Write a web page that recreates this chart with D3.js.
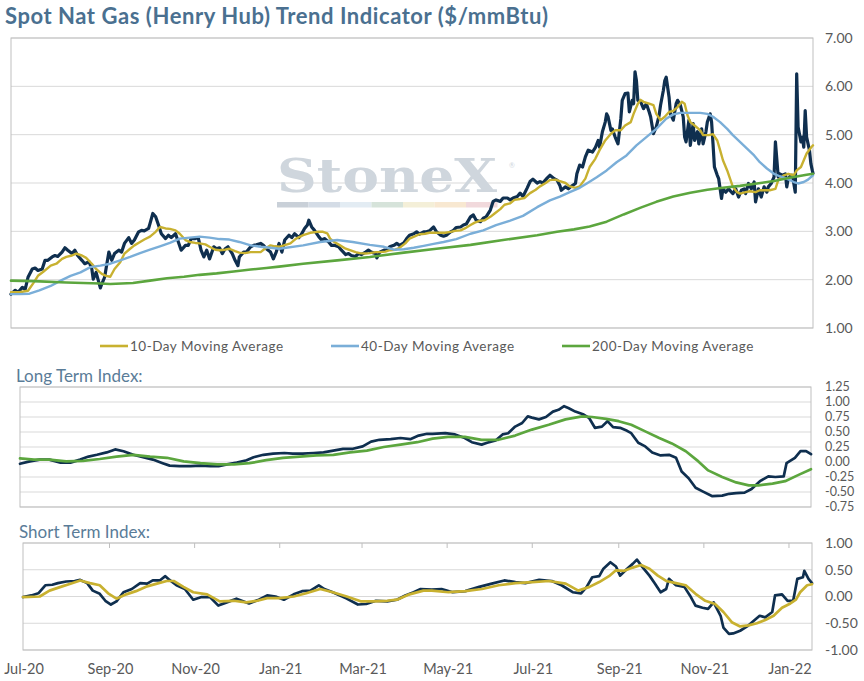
<!DOCTYPE html>
<html>
<head>
<meta charset="utf-8">
<script src="https://cdn.jsdelivr.net/npm/d3@7"></script>
<style>
  body { margin: 0; background: #fff; }
  text { font-family: Lato, "Noto Sans", sans-serif; }
</style>
</head>
<body>
<svg id="chart" width="864" height="681"></svg>
<script>
// every series is [days since 1 Jul 2020, value]
const START = Date.UTC(2020, 6, 1);
const END_DAY = 565.5;

const spot = [
  [0,1.70],[3,1.78],[5,1.74],[8,1.84],[10,1.80],[12,2.05],[15,2.22],[17,2.24],[19,2.19],[22,2.22],
  [24,2.40],[26,2.40],[29,2.47],[31,2.50],[33,2.48],[36,2.57],[38,2.66],[40,2.61],[43,2.54],[45,2.61],
  [47,2.50],[50,2.40],[52,2.33],[55,2.37],[57,2.22],[58,2.01],[60,2.15],[63,1.83],[64,1.91],[66,2.05],
  [69,2.57],[71,2.40],[73,2.54],[76,2.61],[78,2.57],[80,2.75],[83,2.87],[85,2.75],[87,2.82],[90,2.99],
  [92,3.02],[94,3.01],[97,3.06],[98,3.16],[100,3.37],[102,3.30],[104,3.13],[106,2.95],[109,2.85],[111,2.92],
  [113,2.87],[116,2.95],[118,2.78],[120,2.61],[123,2.71],[125,2.71],[127,2.85],[130,2.85],[132,2.87],[134,2.61],
  [136,2.47],[138,2.61],[140,2.43],[143,2.68],[145,2.64],[147,2.66],[149,2.54],[151,2.64],[153,2.68],[156,2.54],
  [158,2.40],[160,2.29],[161,2.47],[164,2.57],[166,2.57],[169,2.68],[171,2.71],[173,2.72],[176,2.75],[178,2.71],
  [180,2.64],[183,2.57],[185,2.43],[187,2.57],[189,2.75],[191,2.57],[193,2.82],[196,2.92],[198,2.87],[200,2.95],
  [203,2.87],[205,2.95],[207,3.06],[209,3.13],[210,3.23],[212,3.09],[214,3.02],[217,2.89],[219,2.82],[221,2.85],
  [224,2.78],[226,2.71],[228,2.71],[231,2.68],[233,2.61],[236,2.52],[238,2.54],[240,2.50],[243,2.48],[245,2.54],
  [247,2.52],[250,2.57],[252,2.61],[254,2.57],[257,2.54],[258,2.45],[260,2.57],[263,2.61],[265,2.61],[267,2.68],
  [270,2.71],[272,2.75],[274,2.71],[277,2.76],[279,2.85],[281,2.92],[284,2.95],[286,2.99],[288,2.94],[291,2.99],
  [293,2.99],[295,3.01],[298,3.09],[300,2.99],[303,2.92],[305,2.90],[307,2.92],[310,2.99],[312,3.02],[314,3.08],
  [317,3.09],[319,3.13],[321,3.15],[324,3.30],[326,3.34],[328,3.23],[331,3.20],[333,3.27],[335,3.30],[338,3.44],
  [340,3.62],[342,3.65],[345,3.62],[347,3.69],[350,3.69],[352,3.65],[354,3.69],[357,3.72],[359,3.79],[361,3.72],
  [364,3.90],[366,4.03],[368,4.08],[371,4.00],[373,4.03],[375,4.00],[378,4.10],[380,4.16],[383,4.09],[385,4.06],
  [387,3.95],[388,3.85],[391,3.92],[393,3.88],[395,3.93],[398,3.99],[399,4.19],[401,4.37],[403,4.33],[405,4.54],
  [407,4.68],[410,4.64],[412,4.73],[414,4.88],[415,4.74],[417,5.06],[419,5.26],[420,5.43],[421,5.37],[423,5.09],
  [424,5.12],[426,4.95],[428,4.81],[430,5.33],[431,5.71],[433,5.85],[435,5.86],[436,5.47],[438,5.71],[439,5.64],
  [440,6.30],[441,6.12],[442,5.71],[444,5.68],[446,5.54],[448,5.64],[450,5.47],[451,5.37],[453,5.02],[455,5.16],
  [457,5.40],[458,5.61],[460,5.92],[461,6.12],[462,6.19],[464,5.78],[465,5.43],[467,5.30],[469,5.64],[470,5.71],
  [472,5.61],[474,5.37],[475,4.95],[476,4.85],[478,5.30],[479,4.78],[481,5.23],[482,4.88],[484,5.06],[485,4.81],
  [487,5.12],[488,4.81],[490,5.06],[491,5.26],[493,5.43],[494,5.26],[495,4.81],[496,4.33],[498,4.16],[499,4.09],
  [501,3.68],[502,3.88],[504,3.81],[506,3.88],[508,3.81],[509,3.78],[511,3.88],[513,3.71],[515,3.85],[517,3.88],
  [518,3.78],[520,3.99],[522,3.88],[524,4.02],[525,3.61],[527,3.88],[529,3.71],[531,3.92],[533,3.81],[534,3.92],
  [536,3.99],[538,4.12],[539,4.85],[541,4.12],[542,4.19],[544,4.16],[546,4.19],[547,3.92],[548,4.09],[550,4.16],
  [551,4.16],[553,3.81],[554,6.26],[555,5.16],[557,4.85],[558,4.95],[559,4.74],[560,5.50],[561,4.95],[563,4.68],
  [564,4.40],[565,4.26],[565.5,4.20]
];

const ma10 = [
  [0,1.74],[6,1.74],[12,1.77],[16,1.94],[19,2.08],[23,2.17],[28,2.29],[32,2.33],[36,2.43],[39,2.47],
  [43,2.50],[46,2.54],[50,2.50],[53,2.45],[57,2.33],[60,2.22],[64,2.12],[67,2.08],[70,2.06],[73,2.22],
  [77,2.36],[80,2.54],[84,2.64],[87,2.71],[91,2.78],[94,2.83],[98,2.89],[102,2.99],[105,3.09],[109,3.06],
  [112,3.05],[116,3.02],[119,2.95],[123,2.82],[126,2.78],[130,2.76],[133,2.75],[137,2.73],[140,2.68],[144,2.62],
  [147,2.61],[151,2.62],[154,2.64],[158,2.59],[161,2.56],[165,2.55],[169,2.57],[172,2.57],[176,2.57],[179,2.64],
  [183,2.71],[186,2.69],[189,2.68],[197,2.75],[201,2.85],[206,2.92],[211,2.97],[216,2.99],[220,2.99],[223,2.96],
  [225,2.85],[228,2.78],[232,2.71],[236,2.64],[239,2.61],[243,2.57],[246,2.55],[250,2.54],[253,2.55],[257,2.57],
  [260,2.57],[264,2.58],[267,2.61],[271,2.62],[274,2.66],[278,2.75],[281,2.85],[285,2.90],[288,2.94],[292,2.95],
  [295,2.97],[299,2.97],[303,2.97],[306,2.97],[310,2.99],[313,3.01],[317,3.02],[320,3.06],[324,3.13],[327,3.18],
  [331,3.22],[334,3.23],[338,3.30],[341,3.37],[345,3.46],[348,3.55],[352,3.58],[355,3.65],[359,3.67],[362,3.69],
  [366,3.79],[370,3.86],[373,3.93],[377,4.00],[380,4.06],[384,4.07],[387,4.04],[391,4.00],[394,3.93],[398,3.90],
  [401,3.93],[405,4.09],[408,4.33],[412,4.50],[415,4.68],[419,4.88],[423,5.02],[426,5.09],[430,5.09],[433,5.19],
  [437,5.26],[439,5.43],[442,5.64],[444,5.72],[446,5.68],[450,5.64],[453,5.61],[455,5.43],[458,5.30],[461,5.37],
  [464,5.47],[467,5.49],[470,5.57],[473,5.68],[475,5.64],[477,5.40],[479,5.26],[482,5.19],[486,5.09],[488,4.99],
  [492,4.99],[495,5.01],[498,4.88],[500,4.68],[502,4.47],[505,4.26],[507,4.09],[509,3.92],[512,3.81],[514,3.78],
  [518,3.81],[521,3.83],[525,3.81],[528,3.85],[532,3.85],[535,3.85],[539,3.88],[541,4.06],[545,4.16],[548,4.19],
  [552,4.16],[554,4.26],[557,4.33],[559,4.47],[561,4.61],[564,4.73],[565.5,4.78]
];

const ma40 = [
  [0,1.70],[6,1.70],[13,1.71],[20,1.78],[28,1.87],[35,1.98],[42,2.08],[49,2.15],[56,2.26],[63,2.29],
  [70,2.33],[77,2.40],[84,2.47],[91,2.55],[98,2.62],[105,2.69],[112,2.76],[119,2.85],[126,2.87],[133,2.89],
  [140,2.87],[147,2.84],[154,2.83],[161,2.78],[169,2.71],[176,2.68],[183,2.66],[189,2.64],[206,2.71],[218,2.78],
  [230,2.82],[241,2.78],[253,2.72],[263,2.68],[270,2.62],[277,2.63],[284,2.66],[291,2.70],[298,2.74],[305,2.78],
  [314,2.84],[324,2.95],[333,3.02],[342,3.13],[352,3.22],[361,3.32],[371,3.50],[380,3.64],[387,3.72],[394,3.81],
  [401,3.90],[406,3.99],[413,4.12],[420,4.26],[427,4.43],[434,4.57],[441,4.78],[448,4.95],[455,5.12],[462,5.33],
  [467,5.42],[472,5.45],[479,5.45],[486,5.45],[491,5.43],[495,5.37],[500,5.26],[505,5.12],[509,4.99],[514,4.85],
  [519,4.71],[524,4.57],[528,4.43],[533,4.30],[538,4.19],[542,4.14],[547,4.09],[552,4.02],[555,3.99],[559,4.02],
  [562,4.07],[565.5,4.16]
];

const ma200 = [
  [0,1.98],[16,1.97],[39,1.94],[63,1.92],[70,1.91],[86,1.93],[98,1.98],[110,2.03],[122,2.06],[133,2.10],
  [145,2.13],[157,2.17],[169,2.21],[180,2.24],[189,2.27],[206,2.33],[230,2.40],[253,2.47],[277,2.56],[300,2.64],
  [324,2.72],[347,2.82],[371,2.92],[385,2.99],[397,3.04],[408,3.10],[420,3.20],[432,3.35],[444,3.49],[455,3.61],
  [467,3.72],[479,3.80],[491,3.86],[502,3.90],[514,3.94],[526,3.99],[538,4.04],[549,4.11],[561,4.17],[565.5,4.19]
];

const longIndex = [
  [0,-0.03],[7,0.01],[14,0.04],[21,0.04],[29,-0.01],[36,-0.01],[43,0.04],[49,0.09],[55,0.12],[62,0.16],
  [68,0.21],[74,0.18],[81,0.12],[88,0.08],[95,0.04],[102,-0.02],[107,-0.06],[114,-0.07],[122,-0.07],[129,-0.06],
  [136,-0.07],[142,-0.07],[148,-0.04],[155,-0.01],[162,0.03],[167,0.08],[174,0.12],[181,0.14],[189,0.15],[195,0.14],
  [202,0.14],[210,0.15],[217,0.16],[224,0.19],[231,0.22],[238,0.22],[245,0.26],[251,0.34],[257,0.37],[265,0.38],
  [272,0.40],[279,0.38],[285,0.44],[291,0.47],[295,0.47],[304,0.48],[311,0.46],[318,0.40],[323,0.33],[330,0.29],
  [334,0.32],[340,0.36],[345,0.46],[349,0.48],[354,0.59],[359,0.65],[363,0.76],[366,0.74],[371,0.71],[376,0.75],
  [381,0.84],[385,0.87],[389,0.93],[392,0.90],[397,0.84],[403,0.79],[407,0.73],[411,0.57],[416,0.59],[420,0.68],
  [424,0.58],[429,0.57],[434,0.52],[437,0.48],[442,0.32],[447,0.26],[452,0.16],[458,0.11],[464,0.12],[469,0.07],
  [473,-0.16],[478,-0.27],[483,-0.43],[488,-0.49],[495,-0.57],[502,-0.56],[507,-0.53],[512,-0.52],[518,-0.51],[523,-0.45],
  [529,-0.32],[535,-0.24],[540,-0.25],[546,-0.24],[548,-0.02],[554,0.07],[558,0.18],[562,0.18],[565.5,0.13]
];

const longSignal = [
  [0,0.06],[10,0.04],[21,0.04],[33,0.01],[45,0.02],[57,0.05],[69,0.09],[81,0.12],[93,0.09],[105,0.07],
  [117,0.01],[129,-0.02],[141,-0.04],[153,-0.04],[164,-0.02],[176,0.03],[188,0.07],[200,0.09],[212,0.11],[224,0.12],
  [236,0.16],[248,0.19],[260,0.25],[272,0.29],[284,0.33],[295,0.39],[306,0.42],[318,0.42],[330,0.37],[342,0.37],
  [354,0.44],[366,0.54],[378,0.62],[390,0.71],[402,0.76],[409,0.75],[419,0.72],[428,0.68],[437,0.62],[447,0.51],
  [457,0.40],[466,0.31],[476,0.18],[485,0.01],[492,-0.14],[502,-0.25],[512,-0.34],[521,-0.39],[528,-0.39],[538,-0.36],
  [547,-0.32],[557,-0.21],[565.5,-0.12]
];

const shortIndex = [
  [0,-0.01],[6,0.02],[11,0.06],[16,0.21],[21,0.22],[25,0.25],[31,0.28],[37,0.29],[41,0.31],[46,0.25],
  [50,0.11],[55,0.05],[59,-0.08],[63,-0.15],[67,-0.09],[72,0.08],[78,0.14],[84,0.25],[89,0.24],[93,0.30],
  [98,0.30],[102,0.38],[105,0.31],[110,0.21],[116,0.14],[122,-0.06],[128,-0.01],[134,-0.01],[140,-0.17],[146,-0.11],
  [153,-0.04],[162,-0.13],[169,-0.06],[175,0.02],[181,0.00],[187,-0.06],[194,0.04],[200,0.10],[206,0.11],[212,0.21],
  [216,0.14],[222,0.08],[232,-0.04],[240,-0.15],[246,-0.14],[253,-0.08],[261,-0.09],[268,-0.06],[274,0.02],[280,0.08],
  [285,0.14],[293,0.13],[300,0.14],[308,0.08],[317,0.10],[327,0.18],[336,0.24],[345,0.30],[353,0.27],[360,0.25],
  [370,0.31],[379,0.29],[386,0.21],[394,0.08],[400,0.06],[404,0.18],[408,0.36],[413,0.38],[416,0.52],[421,0.64],
  [425,0.56],[428,0.39],[433,0.52],[437,0.61],[440,0.69],[444,0.55],[449,0.39],[453,0.24],[457,0.08],[461,0.14],
  [463,0.33],[468,0.21],[474,0.18],[478,0.02],[482,-0.17],[487,-0.21],[491,-0.23],[495,-0.11],[500,-0.36],[502,-0.58],
  [506,-0.70],[509,-0.69],[514,-0.64],[519,-0.56],[524,-0.45],[528,-0.36],[532,-0.39],[537,-0.29],[539,0.02],[544,0.04],
  [548,-0.08],[552,-0.08],[555,0.33],[559,0.36],[560,0.48],[563,0.33],[565.5,0.25]
];

const shortSignal = [
  [0,-0.01],[12,0.00],[19,0.11],[27,0.18],[34,0.24],[41,0.30],[48,0.25],[55,0.21],[61,0.06],[67,-0.04],
  [74,0.04],[81,0.10],[89,0.19],[96,0.24],[103,0.29],[108,0.29],[115,0.18],[122,0.08],[132,0.04],[141,-0.09],
  [151,-0.08],[160,-0.11],[168,-0.08],[175,-0.03],[184,-0.03],[194,0.00],[203,0.06],[213,0.14],[222,0.08],[232,0.00],
  [242,-0.09],[251,-0.09],[261,-0.08],[268,-0.06],[277,0.04],[287,0.11],[293,0.11],[305,0.08],[317,0.10],[329,0.14],
  [341,0.21],[353,0.25],[365,0.27],[377,0.29],[389,0.24],[398,0.11],[406,0.18],[413,0.27],[420,0.38],[425,0.49],
  [431,0.48],[437,0.54],[443,0.59],[449,0.52],[455,0.39],[461,0.29],[468,0.25],[475,0.21],[482,0.05],[489,-0.08],
  [496,-0.14],[502,-0.29],[508,-0.48],[514,-0.56],[520,-0.54],[526,-0.50],[532,-0.44],[538,-0.36],[544,-0.21],[550,-0.13],
  [554,-0.06],[557,0.08],[562,0.21],[565.5,0.23]
];

const priceTicks = [1, 2, 3, 4, 5, 6, 7];
const longTicks = [-0.75, -0.5, -0.25, 0, 0.25, 0.5, 0.75, 1, 1.25];
const shortTicks = [-1, -0.5, 0, 0.5, 1];
const monthTicks = ["2020-07-01", "2020-09-01", "2020-11-01", "2021-01-01", "2021-03-01",
                    "2021-05-01", "2021-07-01", "2021-09-01", "2021-11-01", "2022-01-01"];
const legendNames = ["10-Day Moving Average", "40-Day Moving Average", "200-Day Moving Average"];
const logoBar = ["#c9d0d8", "#d4dce6", "#e3ecf3", "#d6e3da", "#f4efd8", "#f8e8d1", "#f1d9dc"];

const NAVY = "#0f2f4f", GOLD = "#c8b130", BLUE = "#7aaed8", GREEN = "#5ca63e";
const AXIS_TXT = "#595959", GRID = "#d9d9d9", BORDER = "#bfbfbf", TITLE = "#4a7090";

const toDate = d => new Date(START + d * 864e5);
const dateDomain = [toDate(0), toDate(END_DAY)];

const svg = d3.select("#chart");

// title
svg.append("text")
    .attr("x", 5).attr("y", 24)
    .attr("fill", TITLE)
    .attr("textLength", 543).attr("lengthAdjust", "spacing")
    .style("font-size", "22px").style("font-weight", "bold")
    .text("Spot Nat Gas (Henry Hub) Trend Indicator ($/mmBtu)");

function panel(cfg) {
    const x = d3.scaleUtc().domain(dateDomain).range([cfg.left, cfg.right]);
    const y = d3.scaleLinear().domain(cfg.domain).range([cfg.bottom, cfg.top]);
    const g = svg.append("g");

    g.selectAll("line.grid")
        .data(cfg.ticks)
        .enter().append("line")
        .attr("class", "grid")
        .attr("x1", cfg.left).attr("x2", cfg.right)
        .attr("y1", d => y(d)).attr("y2", d => y(d))
        .attr("stroke", GRID).attr("stroke-width", 1);

    // right hand axis labels
    g.selectAll("text.tick")
        .data(cfg.ticks)
        .enter().append("text")
        .attr("class", "tick")
        .attr("x", 825)
        .attr("y", d => y(d))
        .attr("dy", "0.35em")
        .attr("fill", AXIS_TXT)
        .style("font-size", cfg.labelSize)
        .text(d => d3.format(".2f")(d).replace("−", "-"));

    g.append("rect")
        .attr("x", cfg.left).attr("y", cfg.top)
        .attr("width", cfg.right - cfg.left).attr("height", cfg.bottom - cfg.top)
        .attr("fill", "none").attr("stroke", BORDER).attr("stroke-width", 1);

    return {x, y, g};
}

function drawLine(p, data, color, width) {
    const line = d3.line()
        .x(d => p.x(toDate(d[0])))
        .y(d => p.y(d[1]));
    p.g.append("path")
        .datum(data)
        .attr("d", line)
        .attr("fill", "none")
        .attr("stroke", color)
        .attr("stroke-width", width)
        .attr("stroke-linejoin", "round")
        .attr("stroke-linecap", "round");
}

// ---- price panel
const pricePanel = panel({left: 11, right: 813, top: 38, bottom: 328, domain: [1, 7],
                          ticks: priceTicks, labelSize: "14px"});

// StoneX watermark
const wm = pricePanel.g.append("g");
wm.append("text")
    .attr("x", 277).attr("y", 192)
    .attr("textLength", 220).attr("lengthAdjust", "spacingAndGlyphs")
    .attr("fill", "#cfd6dd")
    .style("font-family", "'DejaVu Serif', 'Liberation Serif', serif")
    .style("font-size", "46px").style("font-weight", "bold")
    .text("StoneX");
wm.append("text")
    .attr("x", 509).attr("y", 168)
    .attr("fill", "#cfd6dd")
    .style("font-size", "7px")
    .text("®");
wm.selectAll("rect")
    .data(logoBar)
    .enter().append("rect")
    .attr("x", (d, i) => 277 + i * 31.5)
    .attr("y", 202)
    .attr("width", 31.5)
    .attr("height", 5.5)
    .attr("fill", d => d);

drawLine(pricePanel, spot, NAVY, 3.2);
drawLine(pricePanel, ma10, GOLD, 2.4);
drawLine(pricePanel, ma40, BLUE, 2.4);
drawLine(pricePanel, ma200, GREEN, 2.6);

// legend
const legendColors = [GOLD, BLUE, GREEN];
const legendX = [100, 331, 562];
const legend = svg.append("g");
legendNames.forEach((name, i) => {
    legend.append("line")
        .attr("x1", legendX[i]).attr("x2", legendX[i] + 28)
        .attr("y1", 346).attr("y2", 346)
        .attr("stroke", legendColors[i]).attr("stroke-width", 2.6);
    legend.append("text")
        .attr("x", legendX[i] + 30).attr("y", 346)
        .attr("dy", "0.35em")
        .attr("fill", AXIS_TXT)
        .style("font-size", "13.5px").style("letter-spacing", "0.5px")
        .text(name);
});

// ---- long term panel
svg.append("text")
    .attr("x", 16).attr("y", 382)
    .attr("fill", "#5a7c98")
    .style("font-size", "17px")
    .text("Long Term Index:");
const longPanel = panel({left: 20, right: 811, top: 387, bottom: 507, domain: [-0.75, 1.25],
                         ticks: longTicks, labelSize: "12.5px"});
drawLine(longPanel, longIndex, NAVY, 2.7);
drawLine(longPanel, longSignal, GREEN, 2.7);

// ---- short term panel
svg.append("text")
    .attr("x", 19).attr("y", 538)
    .attr("fill", "#5a7c98")
    .style("font-size", "17px")
    .text("Short Term Index:");
const shortPanel = panel({left: 23, right: 812, top: 543, bottom: 650, domain: [-1, 1],
                          ticks: shortTicks, labelSize: "14px"});

const months = monthTicks.map(s => new Date(s + "T00:00:00Z"));
shortPanel.g.selectAll("line.mtick")
    .data(months.slice(1))
    .enter().append("line")
    .attr("class", "mtick")
    .attr("x1", d => shortPanel.x(d)).attr("x2", d => shortPanel.x(d))
    .attr("y1", 543).attr("y2", 548)
    .attr("stroke", BORDER);

drawLine(shortPanel, shortIndex, NAVY, 2.7);
drawLine(shortPanel, shortSignal, GOLD, 2.7);

svg.append("g").selectAll("text")
    .data(months)
    .enter().append("text")
    .attr("x", d => shortPanel.x(d) + 1)
    .attr("y", 674)
    .attr("text-anchor", "middle")
    .attr("fill", AXIS_TXT)
    .style("font-size", "14.5px")
    .text(d3.utcFormat("%b-%y"));
</script>
</body>
</html>
